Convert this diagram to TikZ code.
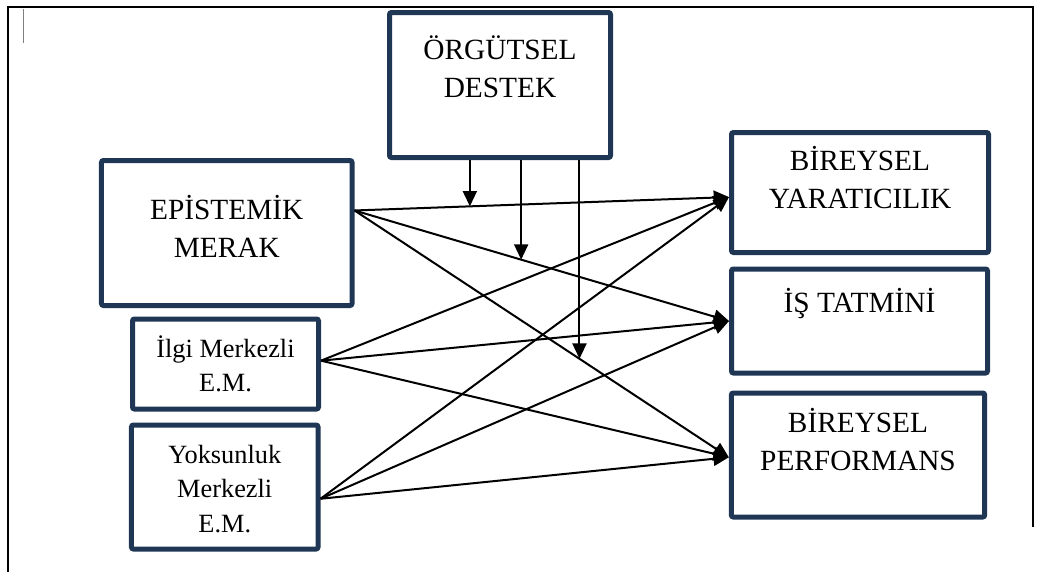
\documentclass[tikz,border=0pt]{standalone}
\usepackage{fontspec}
\setmainfont{Liberation Serif}
\usetikzlibrary{arrows.meta}

\definecolor{boxnavy}{RGB}{31,55,85}

\begin{document}
\begin{tikzpicture}[
  x=0.75pt, y=-0.75pt, >={Triangle[length=11.5pt,width=10.5pt]},
  var/.style={draw=boxnavy, line width=3.75pt, rounded corners=1.5pt, fill=white},
  big/.style={font=\fontsize{22}{28.5}\selectfont, align=center, inner sep=0pt},
  small/.style={font=\fontsize{19.75}{26}\selectfont, align=center, inner sep=0pt},
  conn/.style={draw, ->, line width=1.5pt}
]
  \useasboundingbox (0,0) rectangle (1038,572);

  % table frame
  \draw[line width=1.7pt] (8,572) -- (8,7) -- (1033,7) -- (1033,527);
  \draw[gray, line width=0.6pt] (23,9) -- (23,43);

  % variables
  \node[var, minimum width=165.75pt, minimum height=108.75pt,
        label={[big, below=19pt]north:{ÖRGÜTSEL\\DESTEK}}] (org) at (500,85) {};
  \node[var, minimum width=187.9pt, minimum height=108.75pt,
        label={[big, below=27.5pt]north:{EPİSTEMİK\\MERAK}}] (epi) at (226.75,233) {};
  \node[var, minimum width=139.5pt, minimum height=67.5pt,
        label={[small, below=14pt]north:{İlgi Merkezli\\E.M.}}] (ilgi) at (225.5,364) {};
  \node[var, minimum width=139.9pt, minimum height=93pt,
        label={[small, below=16.5pt]north:{Yoksunluk\\Merkezli\\E.M.}}] (yok) at (224.75,487) {};

  \node[var, minimum width=192.75pt, minimum height=90pt,
        label={[big, below=12pt]north:{BİREYSEL\\YARATICILIK}}] (yar) at (860,192.5) {};
  \node[var, minimum width=192pt, minimum height=78pt,
        label={[big, below=16pt]north:{İŞ TATMİNİ}}] (tat) at (859.5,321) {};
  \node[var, minimum width=190pt, minimum height=93pt,
        label={[big, below=13pt]north:{BİREYSEL\\PERFORMANS}}] (perf) at (858,455) {};

  % paths
  \draw[conn] (epi.10) -- coordinate[pos=.308] (m1) (yar.182);
  \draw[conn] (epi.10) -- coordinate[pos=.445] (m2) (tat.west);
  \draw[conn] (epi.10) -- coordinate[pos=.601] (m3) (perf.181);

  \draw[conn] (ilgi.2) -- (yar.182);
  \draw[conn] (ilgi.2) -- (tat.west);
  \draw[conn] (ilgi.2) -- (perf.181);

  \draw[conn] (yok.-7) -- (yar.182);
  \draw[conn] (yok.-7) -- (tat.west);
  \draw[conn] (yok.-7) -- (perf.181);

  % moderator
  \draw[conn] (org.south -| m1) -- (m1);
  \draw[conn] (org.south -| m2) -- (m2);
  \draw[conn] (org.south -| m3) -- (m3);
\end{tikzpicture}
\end{document}
